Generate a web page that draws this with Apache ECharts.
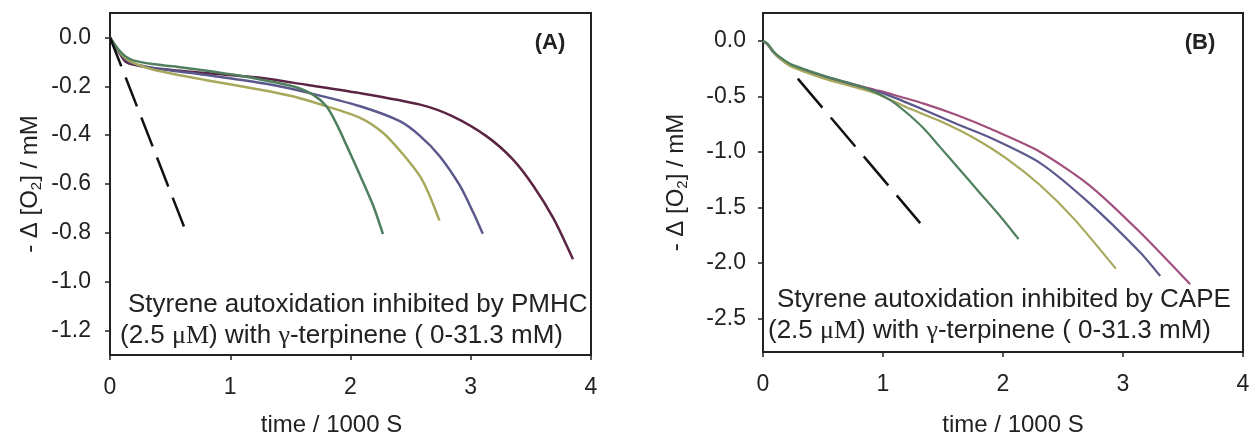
<!DOCTYPE html>
<html>
<head>
<meta charset="utf-8">
<script src="https://cdn.jsdelivr.net/npm/echarts@6/dist/echarts.min.js"></script>
<style>
html,body{margin:0;padding:0;background:#ffffff;}
#chart{width:1253px;height:442px;}
</style>
</head>
<body>
<div id="chart"></div>
<script>
// ---------- Panel A (PMHC) ----------
const aGreenT  = [0, 0.04, 0.08, 0.13, 0.2, 0.37, 0.6, 0.79, 1.02, 1.25, 1.52, 1.69, 1.80, 1.88, 1.97, 2.08, 2.19, 2.27];
const aGreenV  = [0, -0.03, -0.055, -0.078, -0.095, -0.11, -0.123, -0.135, -0.152, -0.172, -0.2, -0.235, -0.282, -0.35, -0.445, -0.565, -0.69, -0.805];
const aYellowT = [0, 0.04, 0.08, 0.13, 0.2, 0.37, 0.79, 1.25, 1.52, 1.80, 2.08, 2.27, 2.44, 2.58, 2.66, 2.74];
const aYellowV = [0, -0.03, -0.06, -0.085, -0.105, -0.133, -0.174, -0.214, -0.241, -0.282, -0.329, -0.39, -0.48, -0.57, -0.65, -0.75];
const aPurpleT = [0, 0.04, 0.08, 0.13, 0.2, 0.37, 0.79, 1.3, 1.66, 2.08, 2.41, 2.58, 2.74, 2.91, 3.02, 3.10];
const aPurpleV = [0, -0.032, -0.06, -0.09, -0.108, -0.126, -0.153, -0.19, -0.228, -0.282, -0.343, -0.404, -0.485, -0.607, -0.716, -0.804];
const aMagentaT = [0, 0.04, 0.08, 0.13, 0.2, 0.37, 0.79, 1.25, 1.52, 2.08, 2.58, 2.85, 3.13, 3.35, 3.52, 3.69, 3.85];
const aMagentaV = [0, -0.035, -0.065, -0.1, -0.112, -0.126, -0.146, -0.165, -0.185, -0.228, -0.275, -0.323, -0.404, -0.499, -0.607, -0.743, -0.908];
const aDashT = [0, 0.62];
const aDashV = [0, -0.78];
const aXTicks = [0, 1, 2, 3, 4];
const aYTicks = [0, -0.2, -0.4, -0.6, -0.8, -1.0, -1.2];

// ---------- Panel B (CAPE) ----------
const bGreenT  = [0, 0.04, 0.08, 0.12, 0.23, 0.51, 0.8, 0.93, 1.07, 1.2, 1.34, 1.47, 1.64, 1.8, 1.97, 2.13];
const bGreenV  = [0, -0.03, -0.085, -0.13, -0.21, -0.315, -0.405, -0.46, -0.54, -0.65, -0.79, -0.95, -1.16, -1.36, -1.57, -1.785];
const bYellowT = [0, 0.04, 0.08, 0.12, 0.23, 0.51, 0.93, 1.2, 1.47, 1.75, 2.03, 2.31, 2.59, 2.94];
const bYellowV = [0, -0.03, -0.09, -0.14, -0.23, -0.34, -0.47, -0.6, -0.72, -0.87, -1.06, -1.3, -1.6, -2.05];
const bPurpleT = [0, 0.04, 0.08, 0.12, 0.23, 0.51, 0.93, 1.07, 1.34, 1.62, 1.89, 2.31, 2.72, 3.14, 3.31];
const bPurpleV = [0, -0.035, -0.095, -0.14, -0.225, -0.33, -0.45, -0.5, -0.62, -0.75, -0.87, -1.1, -1.46, -1.9, -2.116];
const bMagentaT = [0, 0.04, 0.08, 0.12, 0.23, 0.51, 0.93, 1.07, 1.34, 1.62, 1.89, 2.31, 2.72, 3.14, 3.56];
const bMagentaV = [0, -0.035, -0.095, -0.14, -0.225, -0.32, -0.44, -0.48, -0.565, -0.67, -0.79, -1.0, -1.3, -1.72, -2.19];
const bDashT = [0.29, 1.31];
const bDashV = [-0.34, -1.64];
const bXTicks = [0, 1, 2, 3, 4];
const bYTicks = [0, -0.5, -1.0, -1.5, -2.0, -2.5];

const zip = (t, v) => t.map((x, i) => [x, v[i]]);

const FRAME = '#222222';
const TXT = '#222222';
const SANS = '"Liberation Sans", Arial, sans-serif';
const SERIF = '"Liberation Serif", "Times New Roman", serif';

function xAxisCfg(grid, ticks, padding, nameGap) {
  return {
    type: 'value', gridIndex: grid, min: 0, max: 4,
    name: 'time / 1000 S', nameLocation: 'middle', nameGap: nameGap,
    nameTextStyle: {fontSize: 24, fontFamily: SANS, color: TXT, padding: padding},
    axisLine: {show: true, onZero: false, lineStyle: {color: FRAME, width: 2}},
    axisTick: {show: true, inside: false, length: 5, customValues: ticks, lineStyle: {color: FRAME, width: 1.5}},
    axisLabel: {show: true, margin: 21, fontSize: 23, fontFamily: SANS, color: TXT, customValues: ticks,
      formatter: v => String(Math.round(v))},
    splitLine: {show: false}
  };
}
function yAxisCfg(grid, min, max, ticks, margin, nameGap) {
  return {
    type: 'value', gridIndex: grid, min: min, max: max,
    name: '- Δ [O{sub|2}] / mM', nameLocation: 'middle', nameRotate: 90, nameGap: nameGap,
    nameTextStyle: {fontSize: 24, fontFamily: SANS, color: TXT,
      rich: {sub: {fontSize: 15, fontFamily: SANS, color: TXT, padding: [12, 0, 0, 0]}}},
    axisLine: {show: true, onZero: false, lineStyle: {color: FRAME, width: 2}},
    axisTick: {show: true, inside: false, length: 5, customValues: ticks, lineStyle: {color: FRAME, width: 1.5}},
    axisLabel: {show: true, margin: margin, fontSize: 23, fontFamily: SANS, color: TXT, customValues: ticks,
      formatter: v => (Math.abs(v) < 1e-9 ? 0 : v).toFixed(1)},
    splitLine: {show: false}
  };
}
function lineSeries(xi, data, color, width, dash) {
  return {
    type: 'line', xAxisIndex: xi, yAxisIndex: xi, data: data,
    showSymbol: false, symbol: 'none', smooth: dash ? false : 0.25,
    lineStyle: {color: color, width: width, type: dash || 'solid', cap: 'butt', join: 'round'},
    silent: true, animation: false, z: dash ? 3 : 2
  };
}

const C_GREEN = '#4f7f5e';
const C_YELLOW = '#a8a85c';
const C_PURPLE = '#5b598c';
const C_MAG_A = '#5c2444';
const C_MAG_B = '#a1507d';

const chart = echarts.init(document.getElementById('chart'), null, {renderer: 'canvas'});

function annot(x, y, text) {
  return {
    type: 'text', x: x, y: y, silent: true, z: 10,
    style: {
      text: text, fontSize: 26, fontFamily: SANS, fill: TXT,
      align: 'left', verticalAlign: 'middle',
      rich: {s: {fontSize: 26, fontFamily: SERIF, fill: TXT}}
    }
  };
}

chart.setOption({
  animation: false,
  backgroundColor: '#ffffff',
  grid: [
    {left: 110, top: 13, width: 481, height: 344, show: true, borderColor: FRAME, borderWidth: 2, backgroundColor: 'transparent'},
    {left: 763, top: 13, width: 480, height: 344, show: true, borderColor: FRAME, borderWidth: 2, backgroundColor: 'transparent'}
  ],
  xAxis: [
    xAxisCfg(0, aXTicks, [0, 38, 0, 0], 58),
    xAxisCfg(1, bXTicks, [0, 0, 0, 20], 61)
  ],
  yAxis: [
    yAxisCfg(0, -1.3, 0.1, aYTicks, 19, 66),
    yAxisCfg(1, -2.8, 0.25, bYTicks, 17, 73)
  ],
  series: [
    lineSeries(0, zip(aMagentaT, aMagentaV), C_MAG_A, 2.5),
    lineSeries(0, zip(aPurpleT, aPurpleV), C_PURPLE, 2.5),
    lineSeries(0, zip(aYellowT, aYellowV), C_YELLOW, 2.5),
    lineSeries(0, zip(aGreenT, aGreenV), C_GREEN, 2.5),
    lineSeries(0, zip(aDashT, aDashV), '#111111', 2.5, [31, 12]),
    lineSeries(1, zip(bMagentaT, bMagentaV), C_MAG_B, 2.2),
    lineSeries(1, zip(bPurpleT, bPurpleV), C_PURPLE, 2.2),
    lineSeries(1, zip(bYellowT, bYellowV), C_YELLOW, 2.2),
    lineSeries(1, zip(bGreenT, bGreenV), C_GREEN, 2.2),
    lineSeries(1, zip(bDashT, bDashV), '#111111', 2.5, [38, 13])
  ],
  graphic: [
    {type: 'text', x: 550, y: 43, silent: true, style: {text: '(A)', fontSize: 22, fontWeight: 'bold', fontFamily: SANS, fill: TXT, align: 'center', verticalAlign: 'middle'}},
    {type: 'text', x: 1200, y: 43, silent: true, style: {text: '(B)', fontSize: 22, fontWeight: 'bold', fontFamily: SANS, fill: TXT, align: 'center', verticalAlign: 'middle'}},
    annot(128, 305, 'Styrene autoxidation inhibited by PMHC'),
    annot(120, 336, '(2.5 {s|μM}) with {s|γ}-terpinene ( 0-31.3 mM)'),
    annot(777, 300, 'Styrene autoxidation inhibited by CAPE'),
    annot(768, 331, '(2.5 {s|μM}) with {s|γ}-terpinene ( 0-31.3 mM)')
  ]
});
</script>
</body>
</html>
